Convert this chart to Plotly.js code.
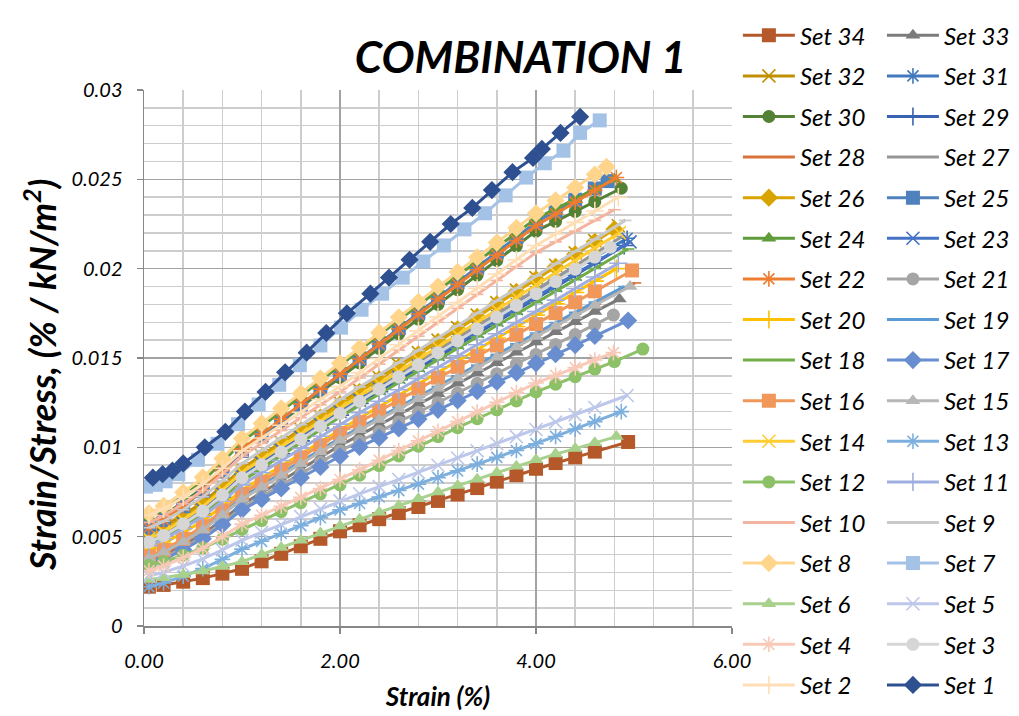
<!DOCTYPE html>
<html>
<head>
<meta charset="utf-8">
<script src="https://cdn.plot.ly/plotly-3.0.1.min.js"></script>
<style>html,body{margin:0;padding:0;background:#fff;}#chart{width:1019px;height:716px;}</style>
</head>
<body>
<div id="chart"></div>
<script>
// ---- Data ----
const setIds = [34,33,32,31,30,29,28,27,26,25,24,23,22,21,20,19,18,17,16,15,14,13,12,11,10,9,8,7,6,5,4,3,2,1];
const xGrid = [0.05,0.2,0.4,0.6,0.8,1.0,1.2,1.4,1.6,1.8,2.0,2.2,2.4,2.6,2.8,3.0,3.2,3.4,3.6,3.8,4.0,4.2,4.4,4.6];
// last strain value of each set (same order as setIds; null = own x array)
const endX = [4.94,4.85,4.84,4.93,4.87,4.90,5.01,4.88,4.80,4.73,4.80,4.96,4.82,4.79,4.82,4.90,4.94,4.94,4.98,4.96,4.85,4.87,null,4.84,4.80,4.91,4.72,null,4.82,4.93,4.79,4.76,4.84,null];

const x1 = [0.09,0.19,0.29,0.40,0.62,0.83,1.03,1.24,1.44,1.66,1.86,2.07,2.31,2.50,2.71,2.92,3.13,3.35,3.55,3.76,3.97,4.06,4.25,4.45];
const y1 = [0.0083,0.0085,0.0087,0.0091,0.0100,0.01087,0.0120,0.0131,0.0142,0.0153,0.0164,0.0175,0.0186,0.0195,0.0205,0.0215,0.0225,0.0234,0.0244,0.0254,0.0262,0.0267,0.0276,0.0285];
const x7 = [0.02,0.12,0.22,0.35,0.55,0.75,0.96,1.17,1.38,1.59,1.80,2.01,2.22,2.43,2.64,2.85,3.06,3.27,3.48,3.69,3.90,4.09,4.28,4.45,4.65];
const y7 = [0.0078,0.0079,0.0081,0.0085,0.0093,0.0102,0.0113,0.0124,0.0135,0.0146,0.0157,0.0167,0.0177,0.0186,0.0195,0.0204,0.0213,0.0222,0.0231,0.0241,0.0251,0.0259,0.0266,0.0276,0.0283];
const x12 = [0.05,0.2,0.4,0.6,0.8,1.0,1.2,1.4,1.6,1.8,2.0,2.2,2.4,2.6,2.8,3.0,3.2,3.4,3.6,3.8,4.0,4.2,4.4,4.6,4.8,5.09];
const y12 = [0.0034,0.0036,0.00396,0.00436,0.00486,0.0054,0.0059,0.0064,0.0069,0.0074,0.0079,0.00844,0.00898,0.00952,0.01006,0.0106,0.0111,0.0116,0.0121,0.0126,0.0131,0.01353,0.01395,0.01438,0.0148,0.0155];

const y34 = [0.0022,0.0023,0.00248,0.00268,0.00293,0.0032,0.00362,0.00404,0.00446,0.00488,0.0053,0.00564,0.00598,0.00632,0.00666,0.0070,0.00736,0.00772,0.00808,0.00844,0.0088,0.00912,0.00944,0.00976,0.0103];
const y33 = [0.0036,0.00392,0.0045,0.00514,0.00594,0.0068,0.00746,0.00812,0.00878,0.00944,0.0101,0.01068,0.01126,0.01184,0.01242,0.0130,0.01358,0.01416,0.01474,0.01532,0.0159,0.01647,0.01703,0.0176,0.0183];
const y32 = [0.0052,0.00556,0.00621,0.00693,0.00783,0.0088,0.00954,0.01028,0.01102,0.01176,0.0125,0.0132,0.0139,0.0146,0.0153,0.0160,0.0167,0.0174,0.0181,0.0188,0.0195,0.02019,0.02088,0.02157,0.0224];
const y31 = [0.0048,0.00517,0.00584,0.00658,0.0075,0.0085,0.00922,0.00994,0.01066,0.01138,0.0121,0.01276,0.01342,0.01408,0.01474,0.0154,0.01606,0.01672,0.01738,0.01804,0.0187,0.01935,0.01999,0.02064,0.0217];
const y30 = [0.0058,0.0062,0.00692,0.00772,0.00872,0.0098,0.01062,0.01144,0.01226,0.01308,0.0139,0.01472,0.01554,0.01636,0.01718,0.0180,0.01882,0.01964,0.02046,0.02128,0.0221,0.02265,0.0232,0.02375,0.0245];
const y29 = [0.0045,0.00487,0.00554,0.00628,0.0072,0.0082,0.00892,0.00964,0.01036,0.01108,0.0118,0.01246,0.01312,0.01378,0.01444,0.0151,0.01574,0.01638,0.01702,0.01766,0.0183,0.01897,0.01963,0.0203,0.0213];
const y28 = [0.0037,0.00405,0.00468,0.00538,0.00626,0.0072,0.00786,0.00852,0.00918,0.00984,0.0105,0.01108,0.01166,0.01224,0.01282,0.0134,0.01398,0.01456,0.01514,0.01572,0.0163,0.01687,0.01745,0.01802,0.0192];
const y27 = [0.0050,0.00536,0.00601,0.00673,0.00763,0.0086,0.0093,0.0100,0.0107,0.0114,0.0121,0.01278,0.01346,0.01414,0.01482,0.0155,0.01616,0.01682,0.01748,0.01814,0.0188,0.01948,0.02016,0.02085,0.0218];
const y26 = [0.0050,0.00537,0.00604,0.00678,0.0077,0.0087,0.00944,0.01018,0.01092,0.01166,0.0124,0.0131,0.0138,0.0145,0.0152,0.0159,0.0166,0.0173,0.0180,0.0187,0.0194,0.0201,0.0208,0.0215,0.0222];
const y25 = [0.0055,0.00593,0.0067,0.00756,0.00864,0.0098,0.01066,0.01152,0.01238,0.01324,0.0141,0.01496,0.01582,0.01668,0.01754,0.0184,0.01924,0.02008,0.02092,0.02176,0.0226,0.02323,0.02386,0.02449,0.0249];
const y24 = [0.0061,0.00652,0.00728,0.00812,0.00917,0.0103,0.01116,0.01202,0.01288,0.01374,0.0146,0.01544,0.01628,0.01712,0.01796,0.0188,0.0196,0.0204,0.0212,0.0220,0.0228,0.02335,0.0239,0.02445,0.0250];
const y23 = [0.0047,0.00507,0.00574,0.00648,0.0074,0.0084,0.00912,0.00984,0.01056,0.01128,0.0120,0.01264,0.01328,0.01392,0.01456,0.0152,0.01584,0.01648,0.01712,0.01776,0.0184,0.01905,0.01969,0.02034,0.0215];
const y22 = [0.0055,0.00594,0.00673,0.00761,0.00871,0.0099,0.01074,0.01158,0.01242,0.01326,0.0141,0.01494,0.01578,0.01662,0.01746,0.0183,0.01912,0.01994,0.02076,0.02158,0.0224,0.02306,0.02372,0.02438,0.0251];
const y21 = [0.0035,0.00381,0.00437,0.00499,0.00576,0.0066,0.00724,0.00788,0.00852,0.00916,0.0098,0.01034,0.01088,0.01142,0.01196,0.0125,0.01304,0.01358,0.01412,0.01466,0.0152,0.01576,0.01631,0.01687,0.0174];
const y20 = [0.0043,0.00463,0.00522,0.00588,0.00671,0.0076,0.00828,0.00896,0.00964,0.01032,0.0110,0.01164,0.01228,0.01292,0.01356,0.0142,0.01484,0.01548,0.01612,0.01676,0.0174,0.01803,0.01867,0.0193,0.0200];
const y19 = [0.0038,0.00414,0.00475,0.00543,0.00628,0.0072,0.00786,0.00852,0.00918,0.00984,0.0105,0.01108,0.01166,0.01224,0.01282,0.0134,0.0140,0.0146,0.0152,0.0158,0.0164,0.01698,0.01756,0.01813,0.0190];
const y18 = [0.0046,0.00495,0.00558,0.00628,0.00716,0.0081,0.00882,0.00954,0.01026,0.01098,0.0117,0.01234,0.01298,0.01362,0.01426,0.0149,0.01554,0.01618,0.01682,0.01746,0.0181,0.01874,0.01938,0.02001,0.0211];
const y17 = [0.0034,0.00371,0.00427,0.00489,0.00566,0.0065,0.0071,0.0077,0.0083,0.0089,0.0095,0.01002,0.01054,0.01106,0.01158,0.0121,0.01262,0.01314,0.01366,0.01418,0.0147,0.01521,0.01572,0.01623,0.0171];
const y16 = [0.0039,0.00425,0.00488,0.00558,0.00646,0.0074,0.00808,0.00876,0.00944,0.01012,0.0108,0.01142,0.01204,0.01266,0.01328,0.0139,0.0145,0.0151,0.0157,0.0163,0.0169,0.01751,0.01812,0.01873,0.0199];
const y15 = [0.0038,0.00413,0.00472,0.00538,0.00621,0.0071,0.00776,0.00842,0.00908,0.00974,0.0104,0.01098,0.01156,0.01214,0.01272,0.0133,0.01388,0.01446,0.01504,0.01562,0.0162,0.01678,0.01737,0.01795,0.0190];
const y14 = [0.0049,0.00527,0.00594,0.00668,0.0076,0.0086,0.00932,0.01004,0.01076,0.01148,0.0122,0.01288,0.01356,0.01424,0.01492,0.0156,0.0163,0.0170,0.0177,0.0184,0.0191,0.01978,0.02046,0.02115,0.0220];
const y13 = [0.0022,0.00241,0.00279,0.00321,0.00373,0.0043,0.00474,0.00518,0.00562,0.00606,0.0065,0.00686,0.00722,0.00758,0.00794,0.0083,0.00868,0.00906,0.00944,0.00982,0.0102,0.01061,0.01103,0.01144,0.0120];
const y11 = [0.0045,0.00484,0.00545,0.00613,0.00698,0.0079,0.00858,0.00926,0.00994,0.01062,0.0113,0.01194,0.01258,0.01322,0.01386,0.0145,0.01512,0.01574,0.01636,0.01698,0.0176,0.01824,0.01889,0.01953,0.0203];
const y10 = [0.0058,0.00617,0.00684,0.00758,0.0085,0.0095,0.01022,0.01094,0.01166,0.01238,0.0131,0.01388,0.01466,0.01544,0.01622,0.0170,0.01778,0.01856,0.01934,0.02012,0.0209,0.0215,0.0221,0.0227,0.0233];
const y9 = [0.0055,0.00586,0.00651,0.00723,0.00813,0.0091,0.00982,0.01054,0.01126,0.01198,0.0127,0.01338,0.01406,0.01474,0.01542,0.0161,0.0168,0.0175,0.0182,0.0189,0.0196,0.02028,0.02096,0.02164,0.0227];
const y8 = [0.0063,0.00672,0.00748,0.00832,0.00937,0.0105,0.01134,0.01218,0.01302,0.01386,0.0147,0.01556,0.01642,0.01728,0.01814,0.0190,0.01982,0.02064,0.02146,0.02228,0.0231,0.02382,0.02454,0.02527,0.0257];
const y6 = [0.0026,0.0027,0.00288,0.00308,0.00333,0.0036,0.0040,0.0044,0.0048,0.0052,0.0056,0.00598,0.00636,0.00674,0.00712,0.0075,0.00786,0.00822,0.00858,0.00894,0.0093,0.00962,0.00993,0.01025,0.0106];
const y5 = [0.0028,0.0030,0.00336,0.00376,0.00426,0.0048,0.00524,0.00568,0.00612,0.00656,0.0070,0.0074,0.0078,0.0082,0.0086,0.0090,0.0094,0.0098,0.0102,0.0106,0.0110,0.01141,0.01182,0.01223,0.0129];
const y4 = [0.0031,0.00336,0.00383,0.00435,0.0050,0.0057,0.0062,0.0067,0.0072,0.0077,0.0082,0.00874,0.00928,0.00982,0.01036,0.0109,0.01144,0.01198,0.01252,0.01306,0.0136,0.01403,0.01446,0.01489,0.0153];
const y3 = [0.0047,0.00506,0.00571,0.00643,0.00733,0.0083,0.00902,0.00974,0.01046,0.01118,0.0119,0.01258,0.01326,0.01394,0.01462,0.0153,0.01596,0.01662,0.01728,0.01794,0.0186,0.01928,0.01997,0.02065,0.0212];
const y2 = [0.0062,0.00656,0.00721,0.00793,0.00883,0.0098,0.01052,0.01124,0.01196,0.01268,0.0134,0.01418,0.01496,0.01574,0.01652,0.0173,0.0181,0.0189,0.0197,0.0205,0.0213,0.02194,0.02259,0.02323,0.0240];

const yBySet = {1:y1,2:y2,3:y3,4:y4,5:y5,6:y6,7:y7,8:y8,9:y9,10:y10,11:y11,12:y12,13:y13,14:y14,15:y15,16:y16,17:y17,18:y18,19:y19,20:y20,21:y21,22:y22,23:y23,24:y24,25:y25,26:y26,27:y27,28:y28,29:y29,30:y30,31:y31,32:y32,33:y33,34:y34};
const ownX = {1:x1, 7:x7, 12:x12};

// ---- Styles ----
const colors = {34:'#B5592A',33:'#7B7B7B',32:'#BF9000',31:'#4178BE',30:'#538135',29:'#3A62B2',28:'#D9733A',27:'#969696',26:'#D9A400',25:'#4F81BD',24:'#5E9B3A',23:'#4472C4',22:'#ED7D31',21:'#A5A5A5',20:'#FFC000',19:'#5B9BD5',18:'#70AD47',17:'#698ED0',16:'#F1975A',15:'#B7B7B7',14:'#FFCD33',13:'#7CAFDD',12:'#8CC168',11:'#A0AEDF',10:'#F4B5A0',9:'#C9C9C9',8:'#FFD58C',7:'#A3C2E6',6:'#A9D18E',5:'#BCC7EA',4:'#F7C9B6',3:'#D6D6D6',2:'#FFDEB5',1:'#2E5090'};
const kinds = {34:'square',33:'tri',32:'x',31:'ast',30:'circle',29:'plus',28:'dash',27:'dash',26:'diamond',25:'square',24:'tri',23:'x',22:'ast',21:'circle',20:'plus',19:'dash',18:'dash',17:'diamond',16:'square',15:'tri',14:'x',13:'ast',12:'circle',11:'plus',10:'dash',9:'dash',8:'diamond',7:'square',6:'tri',5:'x',4:'ast',3:'circle',2:'plus',1:'diamond'};
const symbolOf = {square:'square',tri:'triangle-up',x:'x-thin-open',ast:'asterisk-open',circle:'circle',plus:'cross-thin-open',dash:'line-ew-open',diamond:'diamond'};
const sizeOf = {square:14,tri:13,x:13,ast:13,circle:13,plus:13,dash:9,diamond:14};
const FONT = 'Lato, "Open Sans", "DejaVu Sans", sans-serif';

const traces = setIds.map((id, i) => {
  const kind = kinds[id];
  const c = colors[id];
  const x = ownX[id] ? ownX[id] : xGrid.concat([endX[i]]);
  const open = ['x','ast','plus','dash'].includes(kind);
  return {
    type: 'scatter', mode: 'lines+markers', name: 'Set ' + id,
    x: x, y: yBySet[id],
    line: {color: c, width: 3},
    marker: {symbol: symbolOf[kind], size: sizeOf[kind], color: c,
             line: {color: c, width: open ? 1.6 : 0}},
    legend: (i % 2 === 0) ? 'legend' : 'legend2',
    legendgroup: 'g' + id,
    hoverinfo: 'skip'
  };
});

const legendCommon = {
  xanchor: 'left', yanchor: 'top', y: 1.1433, maxheight: 710,
  font: {family: FONT, size: 24, style: 'italic', color: '#000'},
  tracegroupgap: 6.4, itemwidth: 52, bgcolor: 'rgba(0,0,0,0)', borderwidth: 0,
  traceorder: 'grouped'
};

const layout = {
  width: 1019, height: 716,
  margin: {l: 144, r: 287, t: 90, b: 90, autoexpand: false},
  paper_bgcolor: '#fff', plot_bgcolor: '#fff',
  font: {family: FONT, color: '#000'},
  title: {text: 'COMBINATION 1', font: {family: FONT, size: 44, weight: 'bold', style: 'italic', color: '#000'},
          xref: 'container', x: 0.511, xanchor: 'center', yref: 'container', y: 0.919, yanchor: 'middle'},
  xaxis: {range: [0, 6], dtick: 2, tick0: 0, tickformat: '.2f',
          showgrid: true, gridcolor: '#A3A3A3', gridwidth: 1.5,
          minor: {dtick: 0.4, showgrid: true, gridcolor: '#CDCDCD', gridwidth: 1.5},
          showline: true, linecolor: '#878787', linewidth: 1.5,
          ticks: 'outside', ticklen: 6, tickcolor: '#878787', tickwidth: 1.5,
          tickfont: {family: FONT, size: 20, style: 'italic', color: '#000'},
          zeroline: false, ticklabelstandoff: 10,
          title: {text: 'Strain (%)', font: {family: FONT, size: 26, weight: 'bold', style: 'italic', color: '#000'}, standoff: 17}},
  yaxis: {range: [0, 0.03], dtick: 0.005, tick0: 0,
          showgrid: true, gridcolor: '#A3A3A3', gridwidth: 1.5,
          minor: {dtick: 0.001, showgrid: true, gridcolor: '#CDCDCD', gridwidth: 1.5},
          showline: true, linecolor: '#878787', linewidth: 1.5,
          ticks: 'outside', ticklen: 6, tickcolor: '#878787', tickwidth: 1.5,
          tickfont: {family: FONT, size: 20, style: 'italic', color: '#000'},
          zeroline: false, ticklabelstandoff: 10},
  annotations: [{text: 'Strain/Stress, (% / kN/m<sup>2</sup>)', textangle: -90, showarrow: false,
                 xref: 'paper', yref: 'paper', x: -0.177, y: 0.468, xanchor: 'center', yanchor: 'middle',
                 font: {family: FONT, size: 36, weight: 'bold', style: 'italic', color: '#000'}}],
  legend: Object.assign({}, legendCommon, {x: 1.01}),
  legend2: Object.assign({}, legendCommon, {x: 1.255}),
  showlegend: true
};

Plotly.newPlot('chart', traces, layout, {displayModeBar: false, staticPlot: true});
</script>
</body>
</html>
